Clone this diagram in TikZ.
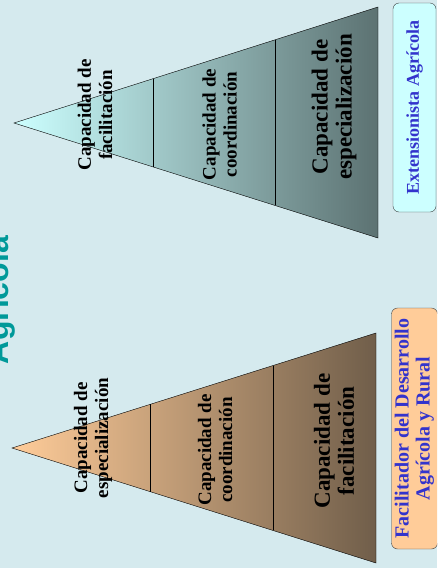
\documentclass[tikz,border=0pt]{standalone}
\usepackage{fontspec}
\newfontfamily\titlefont{Liberation Sans}
\newfontfamily\capfont{Liberation Serif}
\usetikzlibrary{positioning,calc}

\definecolor{bgblue}{RGB}{213,234,238}
\definecolor{peach}{RGB}{255,204,153}
\definecolor{umber}{RGB}{112,94,74}
\definecolor{paleaqua}{RGB}{204,255,255}
\definecolor{slate}{RGB}{92,114,114}
\definecolor{roleblue}{RGB}{51,51,204}
\definecolor{titleteal}{RGB}{0,153,153}

\begin{document}
\begin{tikzpicture}[
    x=1pt, y=-1pt,
    caplabel/.style={
        rotate=90, align=center, inner sep=0pt,
        font=\capfont\bfseries\fontsize{19}{21}\selectfont
    },
    bigcaplabel/.style={caplabel, font=\capfont\bfseries\fontsize{23}{24}\selectfont},
    rolebox/.style={
        rectangle, rounded corners=6pt,
        draw=black!75, rotate=90,
        minimum height=43pt,
        align=center, text=roleblue
    },
    divider/.style={draw=black, thin}
]

% --- fondo ---
\clip (0,0) rectangle (437,568);
\fill[bgblue] (0,0) rectangle (437,568);

\node[rotate=90, anchor=base, text=titleteal, inner sep=0pt,
      font=\titlefont\bfseries\fontsize{32}{32}\selectfont] (title) at (9,300) {Agrícola};

% --- TRIÁNGULO 1: Extensionista ---
\coordinate (eapex) at (14,123);
\coordinate (etop) at (378,7);
\coordinate (ebot) at (378,238);
\shade[left color=paleaqua, right color=slate, draw=black, thin]
    (eapex) -- (etop) -- (ebot) -- cycle;
\foreach \t in {0.382,0.717}
    \draw[divider] ($(eapex)!\t!(etop)$) -- ($(eapex)!\t!(ebot)$);

\node[caplabel] (efac) at (95,115) {Capacidad de\\facilitación};
\node[caplabel] (ecoo) at (219.5,124.5) {Capacidad de\\coordinación};
\node[bigcaplabel] (eesp) at (334,107) {Capacidad de\\especialización};

% --- TRIÁNGULO 2: Facilitador ---
\coordinate (fapex) at (12,448);
\coordinate (ftop) at (376,333);
\coordinate (fbot) at (376,563);
\shade[left color=peach, right color=umber, draw=black, thin]
    (fapex) -- (ftop) -- (fbot) -- cycle;
\foreach \t in {0.379,0.717}
    \draw[divider] ($(fapex)!\t!(ftop)$) -- ($(fapex)!\t!(fbot)$);

\node[caplabel] (fesp) at (93,438) {Capacidad de\\especialización};
\node[caplabel] (fcoo) at (215,450) {Capacidad de\\coordinación};
\node[bigcaplabel] (ffac) at (334,441) {Capacidad de\\facilitación};

% --- CAJAS DE ROL ---
\node[rolebox, fill=paleaqua, minimum width=209pt,
      font=\capfont\bfseries\fontsize{18}{18}\selectfont] (ext) at (414.5,107.5)
    {Extensionista Agrícola};
\node[rolebox, fill=peach, minimum width=241pt,
      font=\capfont\bfseries\fontsize{20}{21}\selectfont] (facil) at (414.5,428.5)
    {Facilitador del Desarrollo\\Agrícola y Rural};

\end{tikzpicture}
\end{document}
